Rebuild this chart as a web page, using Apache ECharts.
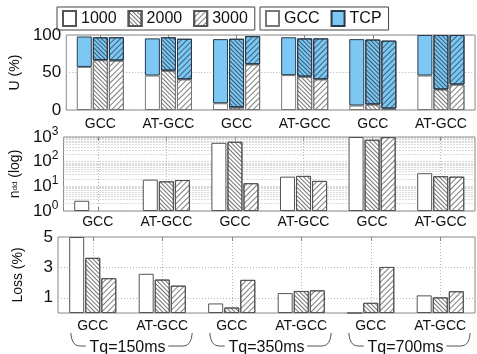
<!DOCTYPE html>
<html><head><meta charset="utf-8">
<script src="https://cdn.jsdelivr.net/npm/echarts@6/dist/echarts.min.js"></script>
<style>html,body{margin:0;padding:0;background:#fff}#c{width:477px;height:354px}</style>
</head><body><div id="c"></div>
<script>
// ---------- data ----------
const categories = ['GCC', 'AT-GCC', 'GCC', 'AT-GCC', 'GCC', 'AT-GCC'];
const groupLabels = ['Tq=150ms', 'Tq=350ms', 'Tq=700ms'];
const sizes = ['1000', '2000', '3000'];
// U (%): GCC share and TCP share (stacked)
const uGcc1000 = [57.5, 46, 9, 46.5, 6, 46];
const uTcp1000 = [40.5, 49.5, 85.5, 50.5, 88.5, 54];
const uGcc2000 = [66.5, 52.5, 3.5, 44.5, 7.5, 27.5];
const uTcp2000 = [30.5, 44.5, 91.5, 51, 86.5, 72.5];
const uGcc3000 = [66, 41, 61, 41, 2, 34];
const uTcp3000 = [31, 54, 37.5, 54.5, 90.5, 66];
// n_dd (log)
const nDd1000 = [2.6, 18.7, 580, 24.7, 1000, 34];
const nDd2000 = ['-', 16, 640, 26.5, 770, 25.7];
const nDd3000 = ['-', 18, 13.4, 16.6, 990, 24.7];
// Loss (%)
const loss1000 = [5.0, 2.58, 0.63, 1.31, 0, 1.16];
const loss2000 = [3.63, 2.2, 0.36, 1.45, 0.67, 1.03];
const loss3000 = [2.29, 1.8, 2.18, 1.49, 3.03, 1.43];
// tick labels
const uTicks = [0, 50, 100];
const lossTicks = [1, 3, 5];

// ---------- styles ----------
const FONT = 'Liberation Sans, Arial, Helvetica, sans-serif';
const TXT = '#111';
const BLUE = '#7cc7f4';
const decals = {
  '1000': null,
  '2000': {symbol: 'rect', symbolSize: 1, dashArrayX: [1, 0], dashArrayY: [1, 2], rotation: Math.PI / 4, color: 'rgba(0,0,0,0.55)'},
  '3000': {symbol: 'rect', symbolSize: 1, dashArrayX: [1, 0], dashArrayY: [1, 3], rotation: -Math.PI / 4, color: 'rgba(0,0,0,0.5)'}
};
const gridDot = {color: '#b5b5b5', type: [1, 2], width: 1};

const grids = [
  {left: 58, width: 417, top: 35, height: 75},
  {left: 58, width: 417, top: 137, height: 74},
  {left: 58, width: 417, top: 237, height: 76}
].map(g => Object.assign(g, {show: true, borderColor: '#888', borderWidth: 1, backgroundColor: 'transparent'}));

const labelMargins = [7, 4, 6];
const xAxes = [];
[0, 1, 2].forEach(i => xAxes.push({
  type: 'category', gridIndex: i, data: categories, position: 'bottom',
  axisLine: {show: false},
  axisTick: {show: true, inside: true, alignWithLabel: true, length: 4, lineStyle: {color: '#888'}},
  axisLabel: {fontSize: 14, color: TXT, fontFamily: FONT, margin: labelMargins[i], interval: 0},
  splitLine: {show: i > 0, alignWithLabel: true, lineStyle: gridDot}
}));
[0, 1, 2].forEach(i => xAxes.push({
  type: 'category', gridIndex: i, data: categories, position: 'top',
  axisLine: {show: false},
  axisTick: {show: true, inside: true, alignWithLabel: true, length: 4, lineStyle: {color: '#888'}},
  axisLabel: {show: false}, splitLine: {show: false}
}));

const yName = {fontSize: 14, color: TXT, fontFamily: FONT};
const yAxes = [
  {type: 'value', gridIndex: 0, min: 0, max: 100, interval: 50,
   name: 'U (%)', nameLocation: 'middle', nameRotate: 90, nameGap: 33, nameTextStyle: yName,
   axisLine: {show: false}, axisTick: {show: false},
   axisLabel: {fontSize: 17, color: TXT, fontFamily: FONT, margin: 5,
     formatter: v => uTicks.indexOf(v) >= 0 ? String(v) : ''},
   splitLine: {show: true, lineStyle: gridDot}},
  {type: 'log', gridIndex: 1, min: 1, max: 1000, logBase: 10,
   name: '{n|n}{d|dd}{n| (log)}', nameLocation: 'middle', nameRotate: 90, nameGap: 37,
   nameTextStyle: {fontSize: 14, color: TXT, fontFamily: FONT,
     rich: {n: {fontSize: 14, color: TXT, fontFamily: FONT}, d: {fontSize: 8, color: TXT, fontFamily: FONT}}},
   axisLine: {show: false}, axisTick: {show: false},
   axisLabel: {color: TXT, margin: 5, fontFamily: FONT,
     formatter: v => '{b|10}{e|' + Math.round(Math.log10(v)) + '}',
     rich: {b: {fontSize: 17, color: TXT, fontFamily: FONT}, e: {fontSize: 12, color: TXT, fontFamily: FONT, padding: [0, 0, 11, 0]}}},
   splitLine: {show: true, lineStyle: gridDot}},
  {type: 'value', gridIndex: 2, min: 0, max: 5, interval: 1,
   name: 'Loss (%)', nameLocation: 'middle', nameRotate: 90, nameGap: 33, nameTextStyle: yName,
   axisLine: {show: false}, axisTick: {show: false},
   axisLabel: {fontSize: 17, color: TXT, fontFamily: FONT, margin: 5,
     formatter: v => lossTicks.indexOf(v) >= 0 ? String(v) : ''},
   splitLine: {show: false}}
];

const minorLog = [];
[1, 10, 100].forEach(d => { for (let k = 2; k <= 9; k++) minorLog.push({yAxis: k * d}); });
function gridLines(vals) {
  return {silent: true, symbol: ['none', 'none'], label: {show: false}, z: 1, animation: false,
    lineStyle: gridDot, emphasis: {disabled: true}, data: vals};
}

const uGcc = {'1000': uGcc1000, '2000': uGcc2000, '3000': uGcc3000};
const uTcp = {'1000': uTcp1000, '2000': uTcp2000, '3000': uTcp3000};
const nDd = {'1000': nDd1000, '2000': nDd2000, '3000': nDd3000};
const loss = {'1000': loss1000, '2000': loss2000, '3000': loss3000};

const BW = 15, GAP = '7%';
const series = [];
sizes.forEach(s => {
  series.push({type: 'bar', name: 'GCC', stack: 'u' + s, data: uGcc[s], xAxisIndex: 0, yAxisIndex: 0,
    barWidth: BW, barGap: GAP, z: 2,
    itemStyle: {color: '#fff', borderColor: '#777', borderWidth: 1, decal: decals[s]}});
});
sizes.forEach(s => {
  series.push({type: 'bar', name: 'TCP', stack: 'u' + s, data: uTcp[s], xAxisIndex: 0, yAxisIndex: 0,
    barWidth: BW, barGap: GAP, z: 2,
    itemStyle: {color: BLUE, borderColor: '#2a3a4a', borderWidth: 1, decal: decals[s]}});
});
sizes.forEach((s, i) => {
  series.push({type: 'bar', name: s, data: nDd[s], xAxisIndex: 1, yAxisIndex: 1,
    barWidth: BW, barGap: GAP, z: 2,
    itemStyle: {color: '#fff', borderColor: '#555', borderWidth: 1, decal: decals[s]},
    markLine: i === 0 ? gridLines(minorLog) : undefined});
});
sizes.forEach((s, i) => {
  series.push({type: 'bar', name: s, data: loss[s], xAxisIndex: 2, yAxisIndex: 2,
    barWidth: BW, barGap: GAP, z: 2,
    itemStyle: {color: '#fff', borderColor: '#555', borderWidth: 1, decal: decals[s]},
    markLine: i === 0 ? gridLines([{yAxis: 1}, {yAxis: 3}]) : undefined});
});

const legendCommon = {
  orient: 'horizontal', top: 7, itemWidth: 13, itemHeight: 15, icon: 'rect',
  borderColor: '#444', borderWidth: 1, borderRadius: 0, padding: [3, 7, 3, 5],
  selectedMode: false,
  textStyle: {fontSize: 16, color: TXT, fontFamily: FONT}
};

const chart = echarts.init(document.getElementById('c'), null, {renderer: 'canvas'});
chart.setOption({
  animation: false,
  backgroundColor: '#fff',
  textStyle: {fontFamily: FONT},
  grid: grids,
  xAxis: xAxes,
  yAxis: yAxes,
  legend: [
    Object.assign({}, legendCommon, {left: 57, itemGap: 11, data: sizes}),
    Object.assign({}, legendCommon, {left: 260, itemGap: 11, data: ['GCC', 'TCP']})
  ],
  series: series
});

// group brackets under the bottom panel
const yBase = chart.convertToPixel({yAxisIndex: 2}, 0);
const graphics = [];
const bStyle = {fill: null, stroke: '#555', lineWidth: 1};
groupLabels.forEach((lab, k) => {
  const c0 = chart.convertToPixel({xAxisIndex: 2}, 2 * k);
  const c1 = chart.convertToPixel({xAxisIndex: 2}, 2 * k + 1);
  const yTop = yBase + 20, yLine = yBase + 33;
  graphics.push({type: 'bezierCurve', silent: true,
    shape: {x1: c0 - 22, y1: yTop, cpx1: c0 - 21, cpy1: yLine, x2: c0 - 13, y2: yLine},
    style: bStyle});
  graphics.push({type: 'line', silent: true,
    shape: {x1: c0 - 13, y1: yLine, x2: c0 - 7, y2: yLine}, style: bStyle});
  graphics.push({type: 'line', silent: true,
    shape: {x1: c1 + 6, y1: yLine, x2: c1 + 21, y2: yLine}, style: bStyle});
  graphics.push({type: 'bezierCurve', silent: true,
    shape: {x1: c1 + 21, y1: yLine, cpx1: c1 + 29, cpy1: yLine, x2: c1 + 30, y2: yTop},
    style: bStyle});
  graphics.push({type: 'text', silent: true,
    style: {text: lab, x: (c0 + c1) / 2, y: yLine + 2, align: 'center', verticalAlign: 'middle',
      fontSize: 16, fill: TXT, fontFamily: FONT}});
});
chart.setOption({graphic: graphics});
</script>
</body></html>
